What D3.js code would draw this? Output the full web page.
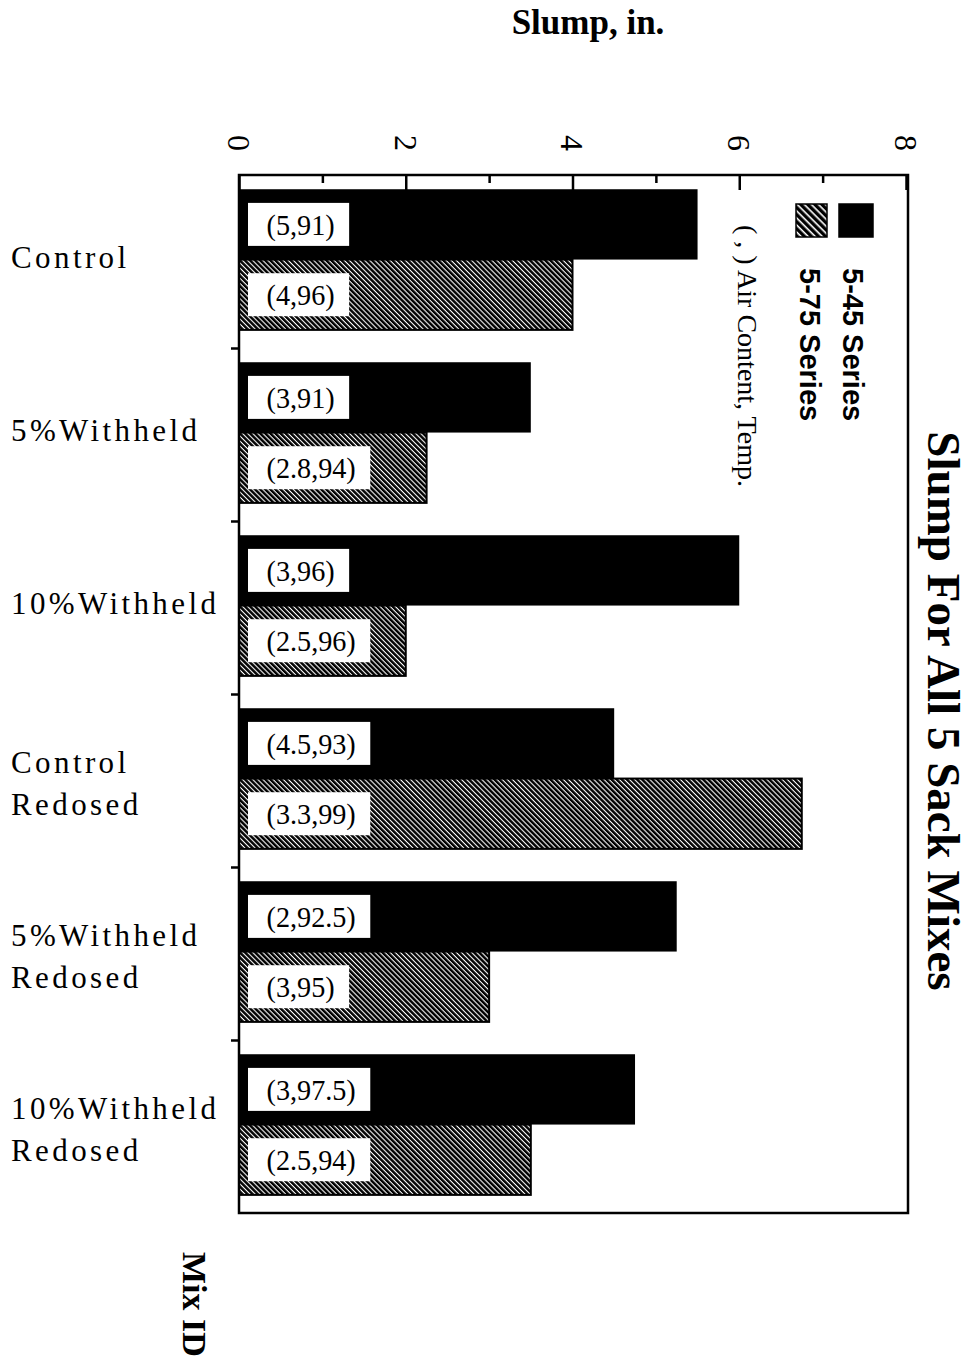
<!DOCTYPE html>
<html>
<head>
<meta charset="utf-8">
<script src="https://cdn.jsdelivr.net/npm/d3@7/dist/d3.min.js"></script>
<style>
  html, body { margin: 0; padding: 0; background: #fff; }
  svg { display: block; }
</style>
</head>
<body>
<div id="chart"></div>
<script>
// Mix IDs (each entry lists the lines of its label)
const mixes = [
  ["Control"],
  ["5%Withheld"],
  ["10%Withheld"],
  ["Control", "Redosed"],
  ["5%Withheld", "Redosed"],
  ["10%Withheld", "Redosed"]
];
// Slump, in.
const slump545 = [5.5, 3.5, 6.0, 4.5, 5.25, 4.75];
const slump575 = [4.0, 2.25, 2.0, 6.75, 3.0, 3.5];
// (air content, temperature) annotations
const note545 = ["(5,91)", "(3,91)", "(3,96)", "(4.5,93)", "(2,92.5)", "(3,97.5)"];
const note575 = ["(4,96)", "(2.8,94)", "(2.5,96)", "(3.3,99)", "(3,95)", "(2.5,94)"];
const seriesNames = ["5-45 Series", "5-75 Series"];
const slumpTicks = [0, 2, 4, 6, 8];
const slumpMinor = [1, 3, 5, 7];

const W = 972, H = 1368;
const plot = { left: 239, right: 908, top: 175, bottom: 1213 };

const svg = d3.select("#chart").append("svg")
  .attr("width", W).attr("height", H)
  .attr("font-family", "'Liberation Serif', 'Times New Roman', serif");

// diagonal hatch used by the 5-75 series
const defs = svg.append("defs");
defs.append("pattern")
  .attr("id", "hatch")
  .attr("patternUnits", "userSpaceOnUse")
  .attr("width", 3.6).attr("height", 3.6)
  .attr("patternTransform", "rotate(-45)")
  .call(p => {
    p.append("rect").attr("width", 3.6).attr("height", 3.6).attr("fill", "#fff");
    p.append("rect").attr("width", 2.5).attr("height", 3.6).attr("fill", "#000");
  });
defs.append("pattern")
  .attr("id", "hatchWide")
  .attr("patternUnits", "userSpaceOnUse")
  .attr("width", 5).attr("height", 5)
  .attr("patternTransform", "rotate(-45)")
  .call(p => {
    p.append("rect").attr("width", 5).attr("height", 5).attr("fill", "#fff");
    p.append("rect").attr("width", 3.4).attr("height", 5).attr("fill", "#000");
  });

const x = d3.scaleLinear().domain([0, 8]).range([plot.left, plot.right - 2]);
const y = d3.scaleBand().domain(d3.range(mixes.length)).range([plot.top, plot.bottom]).padding(0);
const sub = d3.scaleBand().domain([0, 1]).range([0, y.bandwidth()])
  .paddingInner(0).paddingOuter(0.23).align(0.44);

// bars
const rows = mixes.map((m, i) => ({
  i,
  vals: [
    { s: 0, v: slump545[i], note: note545[i] },
    { s: 1, v: slump575[i], note: note575[i] }
  ]
}));

const g = svg.append("g");
const grp = g.selectAll("g.mix").data(rows).join("g")
  .attr("class", "mix")
  .attr("transform", d => `translate(0,${y(d.i)})`);

grp.selectAll("rect.bar").data(d => d.vals).join("rect")
  .attr("class", "bar")
  .attr("x", x(0))
  .attr("y", d => sub(d.s))
  .attr("width", d => x(d.v) - x(0))
  .attr("height", sub.bandwidth())
  .attr("fill", d => d.s === 0 ? "#000" : "url(#hatch)")
  .attr("stroke", "#000")
  .attr("stroke-width", d => d.s === 0 ? 0 : 2);

// white annotation boxes inside each bar
const noteG = grp.selectAll("g.note").data(d => d.vals).join("g")
  .attr("class", "note")
  .attr("transform", d => `translate(${x(0) + 9},${sub(d.s) + sub.bandwidth() / 2})`);
noteG.append("rect").attr("class", "box").attr("fill", "#fff");
noteG.append("text")
  .attr("font-size", 30)
  .attr("dy", "0.35em")
  .attr("text-anchor", "middle")
  .attr("fill", "#000")
  .attr("transform", "scale(0.94,1)")
  .text(d => d.note);
noteG.each(function () {
  const t = d3.select(this).select("text");
  const w = t.node().getComputedTextLength() * 0.94 + 33;
  t.attr("x", (w / 2 + 2) / 0.94);
  d3.select(this).select("rect.box")
    .attr("x", 0).attr("y", -21.5).attr("width", w).attr("height", 43);
});

// frame
svg.append("rect")
  .attr("x", plot.left).attr("y", plot.top)
  .attr("width", plot.right - plot.left).attr("height", plot.bottom - plot.top)
  .attr("fill", "none").attr("stroke", "#000").attr("stroke-width", 2.5);

// slump axis along the top, ticks pointing into the plot
const axTop = svg.append("g").attr("transform", `translate(0,${plot.top})`)
  .call(d3.axisTop(x).tickValues(slumpTicks).tickSize(-15).tickFormat(""));
axTop.select(".domain").remove();
axTop.selectAll(".tick line").attr("stroke-width", 2.5);
const axMinor = svg.append("g").attr("transform", `translate(0,${plot.top})`)
  .call(d3.axisTop(x).tickValues(slumpMinor).tickSize(-8).tickFormat(""));
axMinor.select(".domain").remove();
axMinor.selectAll(".tick line").attr("stroke-width", 2.5);

// rotated tick labels
svg.append("g").selectAll("text").data(slumpTicks).join("text")
  .attr("transform", d => `translate(${x(d)},143) rotate(90)`)
  .attr("text-anchor", "middle")
  .attr("dy", "0.35em")
  .attr("font-size", 32)
  .text(d => d);

// mix boundaries on the left edge
const yEdge = d3.scaleLinear().domain([0, mixes.length]).range([plot.top, plot.bottom]);
const axLeft = svg.append("g").attr("transform", `translate(${plot.left},0)`)
  .call(d3.axisLeft(yEdge).tickValues(d3.range(1, mixes.length)).tickSize(8).tickFormat(""));
axLeft.select(".domain").remove();
axLeft.selectAll(".tick line").attr("stroke-width", 2.5);

// mix labels
const lineGap = 42;
svg.append("g").selectAll("text").data(mixes).join("text")
  .attr("font-size", 31)
  .attr("letter-spacing", 3.4)
  .attr("fill", "#000")
  .each(function (lines, i) {
    const cy = y(i) + y.bandwidth() / 2 - (lines.length - 1) * lineGap / 2 + (lines.length > 1 ? 3 : -4);
    d3.select(this).selectAll("tspan").data(lines).join("tspan")
      .attr("x", 11)
      .attr("y", (d, k) => cy + k * lineGap)
      .attr("dy", "0.35em")
      .text(d => d);
  });

// axis titles
svg.append("text")
  .attr("x", 588).attr("y", 34)
  .attr("text-anchor", "middle")
  .attr("font-size", 35).attr("font-weight", "bold")
  .text("Slump, in.");

svg.append("text")
  .attr("transform", "translate(195,1252) rotate(90)")
  .attr("dy", "0.35em")
  .attr("font-size", 34).attr("font-weight", "bold")
  .text("Mix ID");

svg.append("text")
  .attr("transform", "translate(944,711) rotate(90)")
  .attr("text-anchor", "middle")
  .attr("dy", "0.35em")
  .attr("font-size", 47).attr("font-weight", "bold")
  .text("Slump For All 5 Sack Mixes");

// legend
const legend = svg.append("g");
const legendX = [855, 812];
legend.selectAll("rect").data(seriesNames).join("rect")
  .attr("x", (d, i) => legendX[i] - 16)
  .attr("y", 204)
  .attr("width", (d, i) => i === 0 ? 34 : 31)
  .attr("height", 33)
  .attr("fill", (d, i) => i === 0 ? "#000" : "url(#hatchWide)")
  .attr("stroke", "#000").attr("stroke-width", 1.5);
legend.selectAll("text.series").data(seriesNames).join("text")
  .attr("class", "series")
  .attr("transform", (d, i) => `translate(${legendX[i] - 2},268) rotate(90)`)
  .attr("dy", "0.35em")
  .attr("font-family", "'Liberation Sans', Arial, sans-serif")
  .attr("font-weight", "bold")
  .attr("font-size", 29)
  .text(d => d);
legend.append("text")
  .attr("transform", "translate(748,225) rotate(90)")
  .attr("dy", "0.35em")
  .attr("font-size", 28)
  .text("( , ) Air Content, Temp.");
</script>
</body>
</html>
